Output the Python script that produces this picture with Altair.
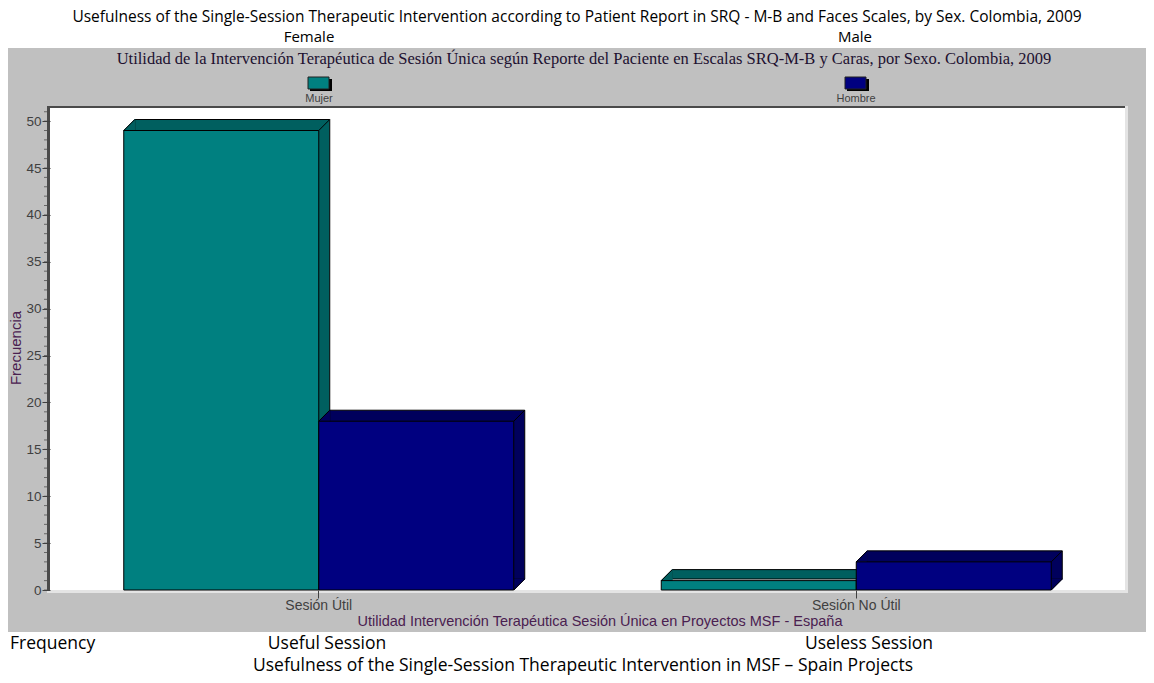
import altair as alt
import pandas as pd

# ---------------- data ----------------
categories = ["Sesión Útil", "Sesión No Útil"]
sexes = ["Mujer", "Hombre"]
mujer_values = [49, 1]
hombre_values = [18, 3]
y_major_ticks = [0, 5, 10, 15, 20, 25, 30, 35, 40, 45, 50]
y_minor_ticks = list(range(0, 52))

title_en = ("Usefulness of the Single-Session Therapeutic Intervention according to Patient "
            "Report in SRQ - M-B and Faces Scales, by Sex.  Colombia, 2009")
title_es = ("Utilidad de la Intervención Terapéutica de Sesión Única según Reporte del Paciente "
            "en Escalas SRQ-M-B y Caras, por Sexo. Colombia, 2009")
xtitle_es = "Utilidad Intervención Terapéutica Sesión Única en Proyectos MSF - España"
ytitle_es = "Frecuencia"
sex_en = ["Female", "Male"]
cat_en = ["Useful Session", "Useless Session"]
ytitle_en = "Frequency"
xtitle_en = "Usefulness of the Single-Session Therapeutic Intervention in MSF \u2013 Spain Projects"

# ---------------- style ----------------
W, H = 1075, 482
BAR_W = 195
D = 11
front_colors = {"Mujer": "#008080", "Hombre": "#000080"}
dark_colors = {"Mujer": "#005f5f", "Hombre": "#00005c"}
offsets = {"Mujer": -BAR_W / 2, "Hombre": BAR_W / 2}
EN_FONT = "Open Sans"
AX = "#404040"
PURPLE = "#4a2050"

df = pd.DataFrame({
    "categoria": categories * 2,
    "sexo": ["Mujer"] * 2 + ["Hombre"] * 2,
    "frecuencia": mujer_values + hombre_values,
})
minor_df = pd.DataFrame({"frecuencia": y_minor_ticks})
one = pd.DataFrame({"k": [1]})

x_scale = alt.Scale(domain=categories, paddingInner=0, paddingOuter=0)
y_scale = alt.Scale(domain=[0, 51.4], nice=False, zero=True)
x_axis = alt.Axis(title=None, labelAngle=0, domain=False, tickSize=8, tickColor=AX,
                  labelFont="Liberation Sans", labelFontSize=14, labelColor=AX,
                  labelPadding=0, zindex=1)
y_axis = alt.Axis(title=None, values=y_major_ticks, grid=False, domain=False,
                  tickSize=8, tickColor=AX, labelFont="Liberation Sans",
                  labelFontSize=13.5, labelColor=AX, labelPadding=1, zindex=1)


def xf():
    return alt.X("categoria:N", scale=x_scale, sort=categories, axis=x_axis)


def yf():
    return alt.Y("frecuencia:Q", scale=y_scale, axis=y_axis)


def y0():
    return alt.Y(datum=0, type="quantitative", scale=y_scale)


def rect(x1, x2, y1, y2, color):
    return alt.Chart(one).mark_rect(color=color).encode(
        x=alt.value(x1), x2=alt.value(x2), y=alt.value(y1), y2=alt.value(y2))


def text(t, x, y, size, font=EN_FONT, color="black", align="center", angle=0):
    return alt.Chart(one).mark_text(text=t, font=font, fontSize=size, color=color,
                                    align=align, baseline="middle", angle=angle).encode(
        x=alt.value(x), y=alt.value(y))


layers = []
# page background and grey panel
layers.append(rect(-42, 1096, -100, 567, "white"))
layers.append(rect(-42, 1096, -60, 524, "#c0c0c0"))
# plot area and sunken frame
layers.append(rect(0, W, 0, H, "white"))
layers.append(rect(-3, W, -2, 0, "#4a4a4a"))
layers.append(rect(-3, 0, -2, H, "#4a4a4a"))
layers.append(rect(W, W + 3, -2, H + 3, "#e4e4e4"))
layers.append(rect(-3, W + 3, H, H + 3, "#e4e4e4"))

# minor ticks on y (also carries the y axis)
layers.append(alt.Chart(minor_df).mark_tick(color=AX, thickness=1, size=3).encode(
    y=yf(), x=alt.value(-4.5)))

TRI_TL = "M-1,1L1,-1L1,1Z"
TRI_BR = "M-1,-1L1,-1L-1,1Z"
DIAG = "M-1,1L1,-1"

for s in sexes:
    base = alt.Chart(df).transform_filter(alt.datum.sexo == s)
    o = offsets[s]
    dark = dark_colors[s]
    # back box (top + side faces)
    layers.append(base.mark_bar(size=BAR_W, xOffset=o + D, yOffset=-D, y2Offset=-D,
                                fill=dark, stroke="black", strokeWidth=1).encode(
        x=xf(), y=yf()))
    # top-left triangle of the top face
    layers.append(base.mark_point(shape=TRI_TL, size=D * D, filled=True, fill=dark,
                                  stroke=dark, strokeWidth=1, opacity=1,
                                  xOffset=o - BAR_W / 2 + D / 2, yOffset=-D / 2).encode(
        x=xf(), y=yf()))
    # bottom-right triangle of the side face
    layers.append(base.mark_point(shape=TRI_BR, size=D * D, filled=True, fill=dark,
                                  stroke=dark, strokeWidth=1, opacity=1,
                                  xOffset=o + BAR_W / 2 + D / 2, yOffset=-D / 2).encode(
        x=xf(), y=y0()))
    # front face
    layers.append(base.mark_bar(size=BAR_W, xOffset=o, fill=front_colors[s],
                                stroke="black", strokeWidth=1).encode(x=xf(), y=yf()))
    # diagonal edges
    for dx, use_zero in [(o - BAR_W / 2 + D / 2, False), (o + BAR_W / 2 + D / 2, False),
                         (o + BAR_W / 2 + D / 2, True)]:
        layers.append(base.mark_point(shape=DIAG, size=D * D, filled=False,
                                      stroke="black", strokeWidth=1, opacity=1,
                                      xOffset=dx, yOffset=-D / 2).encode(
            x=xf(), y=y0() if use_zero else yf()))

# legend (custom, items above each category)
legend_x = {"Mujer": 269, "Hombre": 806}
for s in sexes:
    cx = legend_x[s]
    layers.append(rect(cx - 9, cx + 13, -29, -17, "black"))
    layers.append(alt.Chart(one).mark_rect(color=front_colors[s], stroke="#202020",
                                           strokeWidth=1).encode(
        x=alt.value(cx - 11), x2=alt.value(cx + 10), y=alt.value(-31), y2=alt.value(-19)))
    layers.append(text(s, cx, -9, 11, font="Liberation Sans", color=AX))

# titles
layers.append(text(title_en, 527, -91, 15.5))
layers.append(text(sex_en[0], 259, -71, 15))
layers.append(text(sex_en[1], 805, -71, 15))
layers.append(text(title_es, 534, -49, 16.5, font="Liberation Serif", color="#201030"))
layers.append(text(ytitle_es, -34, 240, 15, font="Liberation Sans", color=PURPLE, angle=270))
layers.append(text(xtitle_es, 550, 514, 14.5, font="Liberation Sans", color=PURPLE))
layers.append(text(ytitle_en, -40, 536, 17.5, align="left"))
layers.append(text(cat_en[0], 277, 536, 17.5))
layers.append(text(cat_en[1], 819, 536, 17.5))
layers.append(text(xtitle_en, 533, 558, 17.5))

chart = alt.layer(*layers).properties(width=W, height=H, padding=0).configure_view(
    stroke=None).configure(background="white")

chart.save("out.html", embed_options={"renderer": "svg", "actions": False})
